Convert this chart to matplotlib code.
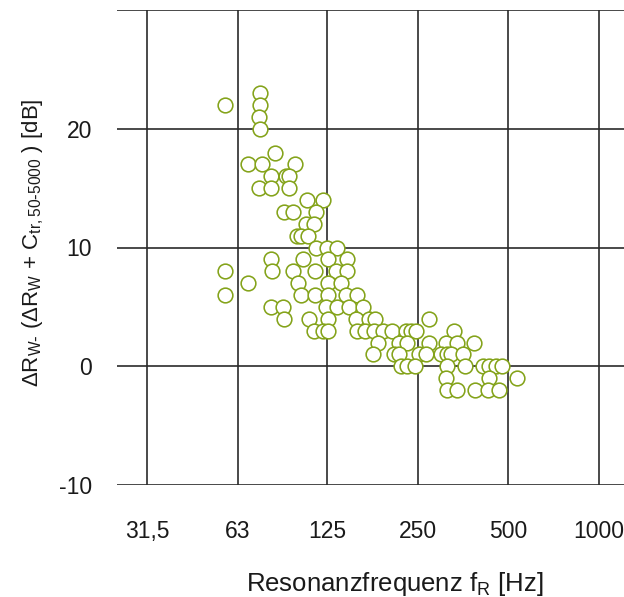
import numpy as np
import matplotlib
matplotlib.use("Agg")
from matplotlib import pyplot as plt

# resonance frequency [Hz] and level change [dB], one line per dB row
freq_hz = [
    75,
    57, 75,
    74,
    75,
    84,
    68, 76, 98,
    81, 91, 93,
    74, 81, 93,
    107, 121,
    90, 96, 115,
    106, 113,
    99, 102, 108,
    115, 125, 135,
    81, 104, 126, 145,
    57, 82, 96, 114, 134, 145,
    68, 100, 126, 139,
    57, 102, 114, 126, 144, 157,
    81, 89, 124, 135, 148, 164,
    90, 109, 126, 156, 172, 180, 273,
    113, 121, 126, 157, 167, 179, 191, 205, 228, 237, 247, 329,
    184, 217, 231, 272, 310, 339, 384,
    178, 209, 217, 253, 266, 299, 314, 322, 354,
    220, 231, 245, 314, 360, 411, 432, 455, 477,
    310, 432, 537,
    314, 337, 387, 429, 467,
]
delta_db = [
    23,
    22, 22,
    21,
    20,
    18,
    17, 17, 17,
    16, 16, 16,
    15, 15, 15,
    14, 14,
    13, 13, 13,
    12, 12,
    11, 11, 11,
    10, 10, 10,
    9, 9, 9, 9,
    8, 8, 8, 8, 8, 8,
    7, 7, 7, 7,
    6, 6, 6, 6, 6, 6,
    5, 5, 5, 5, 5, 5,
    4, 4, 4, 4, 4, 4, 4,
    3, 3, 3, 3, 3, 3, 3, 3, 3, 3, 3, 3,
    2, 2, 2, 2, 2, 2, 2,
    1, 1, 1, 1, 1, 1, 1, 1, 1,
    0, 0, 0, 0, 0, 0, 0, 0, 0,
    -1, -1, -1,
    -2, -2, -2, -2, -2,
]

x_ticks = [31.5, 63, 125, 250, 500, 1000]
x_labels = ["31,5", "63", "125", "250", "500", "1000"]
y_ticks = [-10, 0, 10, 20, 30]
y_labels = ["-10", "0", "10", "20", ""]

plt.rcParams['font.family'] = ['Liberation Sans', 'DejaVu Sans']
plt.rcParams['mathtext.default'] = 'regular'

green = '#84a31a'
grid_col = '#2a2a2a'
txt_col = '#1a1a1a'

fig = plt.figure(figsize=(6.24, 5.97), dpi=100)
ax = fig.add_axes([117/624, 1-485/597, 1-117/624, (485-10)/597])

ax.set_xscale('log', base=2)
ax.set_xlim(25.0, 1214)
ax.set_ylim(-10, 30)

ax.set_xticks(x_ticks)
ax.set_xticklabels(x_labels)
ax.xaxis.set_minor_locator(matplotlib.ticker.NullLocator())
ax.set_yticks(y_ticks)
ax.set_yticklabels(y_labels)

for x in x_ticks:
    ax.axvline(x, color=grid_col, lw=1.2, zorder=1)
for y in y_ticks:
    ax.axhline(y, color=grid_col, lw=1.2, zorder=1)

for s in ax.spines.values():
    s.set_visible(False)

ax.tick_params(axis='both', length=0, labelsize=16.5, colors=txt_col)
ax.tick_params(axis='x', pad=25)
ax.tick_params(axis='y', pad=18)

ax.scatter(freq_hz, delta_db, s=112, facecolors='white', edgecolors=green,
           linewidths=1.15, zorder=3)

fig.text(395/624, 1-584/597, r'Resonanzfrequenz f$_R$ [Hz]', ha='center',
         va='center', fontsize=18.5, color=txt_col)
fig.text(33/624, 1-243/597,
         r'$\Delta$R$_{W\text{-}}$ ($\Delta$R$_W$ + C$_{tr,50\text{-}5000}$ ) [dB]',
         rotation=90, ha='center', va='center', fontsize=16, color=txt_col)

fig.savefig('out.png', dpi=100)
